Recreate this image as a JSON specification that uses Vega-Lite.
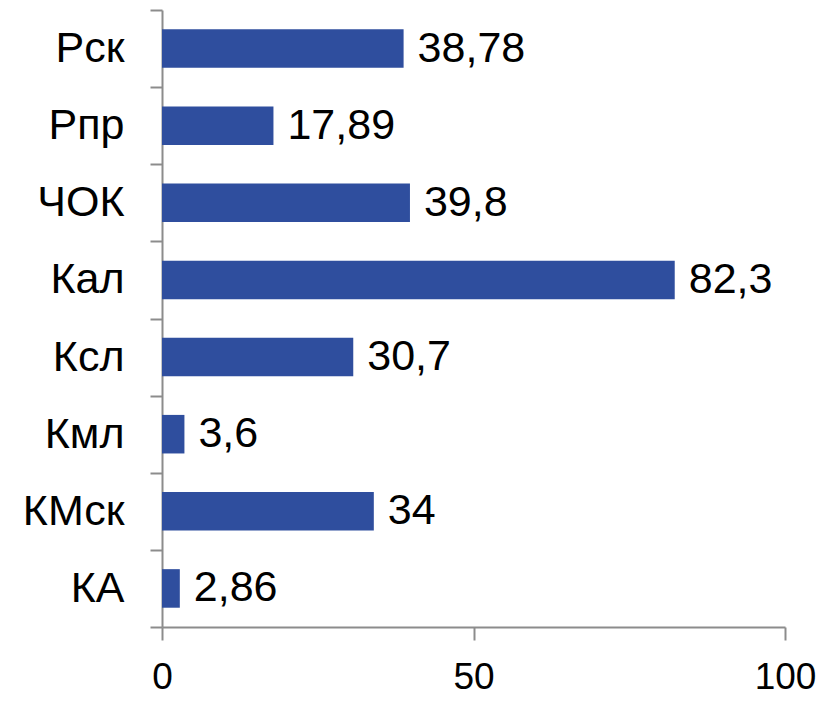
{
  "$schema": "https://vega.github.io/schema/vega-lite/v6.json",
  "autosize": "none",
  "width": 623,
  "height": 617,
  "padding": {"left": 162, "top": 10, "right": 32, "bottom": 76},
  "background": "white",
  "config": {
    "locale": {"number": {"decimal": ",", "thousands": " ", "grouping": [3], "currency": ["", ""]}},
    "view": {"stroke": null},
    "font": "Liberation Sans"
  },
  "data": {
    "values": [
      {"cat": "Рск", "value": 38.78},
      {"cat": "Рпр", "value": 17.89},
      {"cat": "ЧОК", "value": 39.8},
      {"cat": "Кал", "value": 82.3},
      {"cat": "Ксл", "value": 30.7},
      {"cat": "Кмл", "value": 3.6},
      {"cat": "КМск", "value": 34},
      {"cat": "КА", "value": 2.86}
    ]
  },
  "encoding": {
    "y": {
      "field": "cat", "type": "nominal", "sort": null,
      "scale": {"paddingInner": 0, "paddingOuter": 0},
      "axis": {
        "title": null, "domainColor": "#8c8c8c", "domainWidth": 2, "tickColor": "#8c8c8c", "tickWidth": 2,
        "tickSize": 12, "tickBand": "extent", "labelFontSize": 43, "labelColor": "#000000", "labelPadding": 26,
        "labelFont": "Liberation Sans"
      }
    },
    "x": {
      "field": "value", "type": "quantitative",
      "scale": {"domain": [0, 100], "nice": false},
      "axis": {
        "title": null, "values": [0, 50, 100], "grid": false, "domainColor": "#8c8c8c", "domainWidth": 2,
        "tickColor": "#8c8c8c", "tickWidth": 2, "tickSize": 13, "labelFontSize": 37, "labelColor": "#000000",
        "labelPadding": 19, "labelFlush": false, "format": "d", "labelFont": "Liberation Sans"
      }
    }
  },
  "layer": [
    {"mark": {"type": "bar", "color": "#2F4E9E", "height": {"band": 0.5}}},
    {
      "mark": {"type": "text", "align": "left", "dx": 14, "fontSize": 43, "color": "#000000", "baseline": "middle"},
      "encoding": {"text": {"field": "value", "type": "quantitative", "format": "~g"}}
    }
  ]
}
